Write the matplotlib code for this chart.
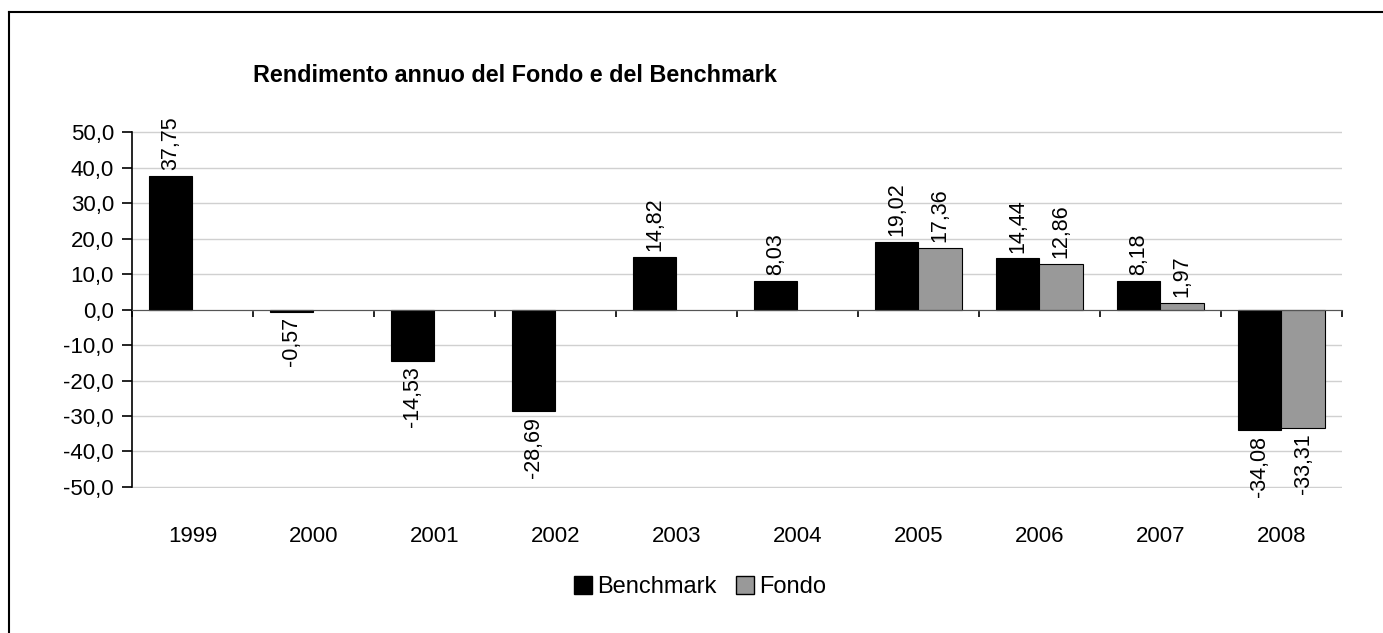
import numpy as np
import matplotlib
matplotlib.use('Agg')
from matplotlib import pyplot as plt
from matplotlib.lines import Line2D

years = ['1999', '2000', '2001', '2002', '2003', '2004', '2005', '2006', '2007', '2008']
benchmark = [37.75, -0.57, -14.53, -28.69, 14.82, 8.03, 19.02, 14.44, 8.18, -34.08]
fondo = [np.nan, np.nan, np.nan, np.nan, np.nan, np.nan, 17.36, 12.86, 1.97, -33.31]
y_ticks = [-50, -40, -30, -20, -10, 0, 10, 20, 30, 40, 50]
title = 'Rendimento annuo del Fondo e del Benchmark'

plt.rcParams['font.family'] = ['Liberation Sans', 'DejaVu Sans']

fig = plt.figure(figsize=[13.83, 6.33], dpi=100)
ax = fig.add_axes([0.0954, 0.229, 0.8749, 0.564])

x = np.arange(len(years))
w = 0.36
b1 = ax.bar(x - w / 2, benchmark, w, color='black', edgecolor='black', linewidth=0.8, zorder=3)
b2 = ax.bar(x + w / 2, fondo, w, color='#999999', edgecolor='black', linewidth=0.8, zorder=3)


def fmt(v):
    return f'{v:.2f}'.replace('.', ',')


for bars, vals in [(b1, benchmark), (b2, fondo)]:
    for rect, v in zip(bars, vals):
        if np.isnan(v):
            continue
        cx = rect.get_x() + rect.get_width() / 2
        if v >= 0:
            ax.annotate(fmt(v), (cx, v), xytext=(0, 4), textcoords='offset points',
                        rotation=90, ha='center', va='bottom', fontsize=15.5)
        else:
            ax.annotate(fmt(v), (cx, v), xytext=(0, -4), textcoords='offset points',
                        rotation=90, ha='center', va='top', fontsize=15.5)

ax.set_xlim(-0.5, len(years) - 0.5)
ax.set_ylim(-50.3, 50.3)
ax.set_yticks(y_ticks)
ax.set_yticklabels([f'{v:.1f}'.replace('.', ',') for v in y_ticks], fontsize=16)
ax.yaxis.grid(True, color='#d0d0d0', linewidth=1, zorder=0)
ax.tick_params(axis='y', direction='out', length=7, width=1.2, pad=6)

for s in ['top', 'right']:
    ax.spines[s].set_visible(False)
ax.spines['left'].set_linewidth(1.2)
ax.spines['left'].set_bounds(-50, 50)
ax.spines['bottom'].set_position(('data', 0))
ax.spines['bottom'].set_color('#555555')
ax.spines['bottom'].set_zorder(4)
ax.set_xticks(np.arange(len(years) + 1) - 0.5)
ax.set_xticklabels([])
ax.tick_params(axis='x', direction='out', length=5, width=1.2, color='black')

secax = ax.secondary_xaxis('bottom')
secax.set_xticks(x)
secax.set_xticklabels(years, fontsize=16)
secax.tick_params(length=0, pad=27)
secax.spines['bottom'].set_visible(False)

fig.text(0.3725, 0.8815, title, ha='center', va='center', fontsize=16.8, fontweight='bold')

handles = [Line2D([], [], marker='s', linestyle='none', markersize=13,
                  markerfacecolor='black', markeredgecolor='black'),
           Line2D([], [], marker='s', linestyle='none', markersize=13,
                  markerfacecolor='#999999', markeredgecolor='black')]
fig.legend(handles, ['Benchmark', 'Fondo'], loc='center', bbox_to_anchor=(0.506, 0.073),
           ncol=2, frameon=False, fontsize=17, handlelength=0.8, handletextpad=0.2,
           columnspacing=0.8)

# frame around the chart (top and left edges visible)
fig.add_artist(Line2D([0.0065, 1.0], [0.981, 0.981], color='black', linewidth=1.5,
                      transform=fig.transFigure))
fig.add_artist(Line2D([0.0065, 0.0065], [0.0, 0.981], color='black', linewidth=1.5,
                      transform=fig.transFigure))

fig.savefig('out.png', dpi=100)
